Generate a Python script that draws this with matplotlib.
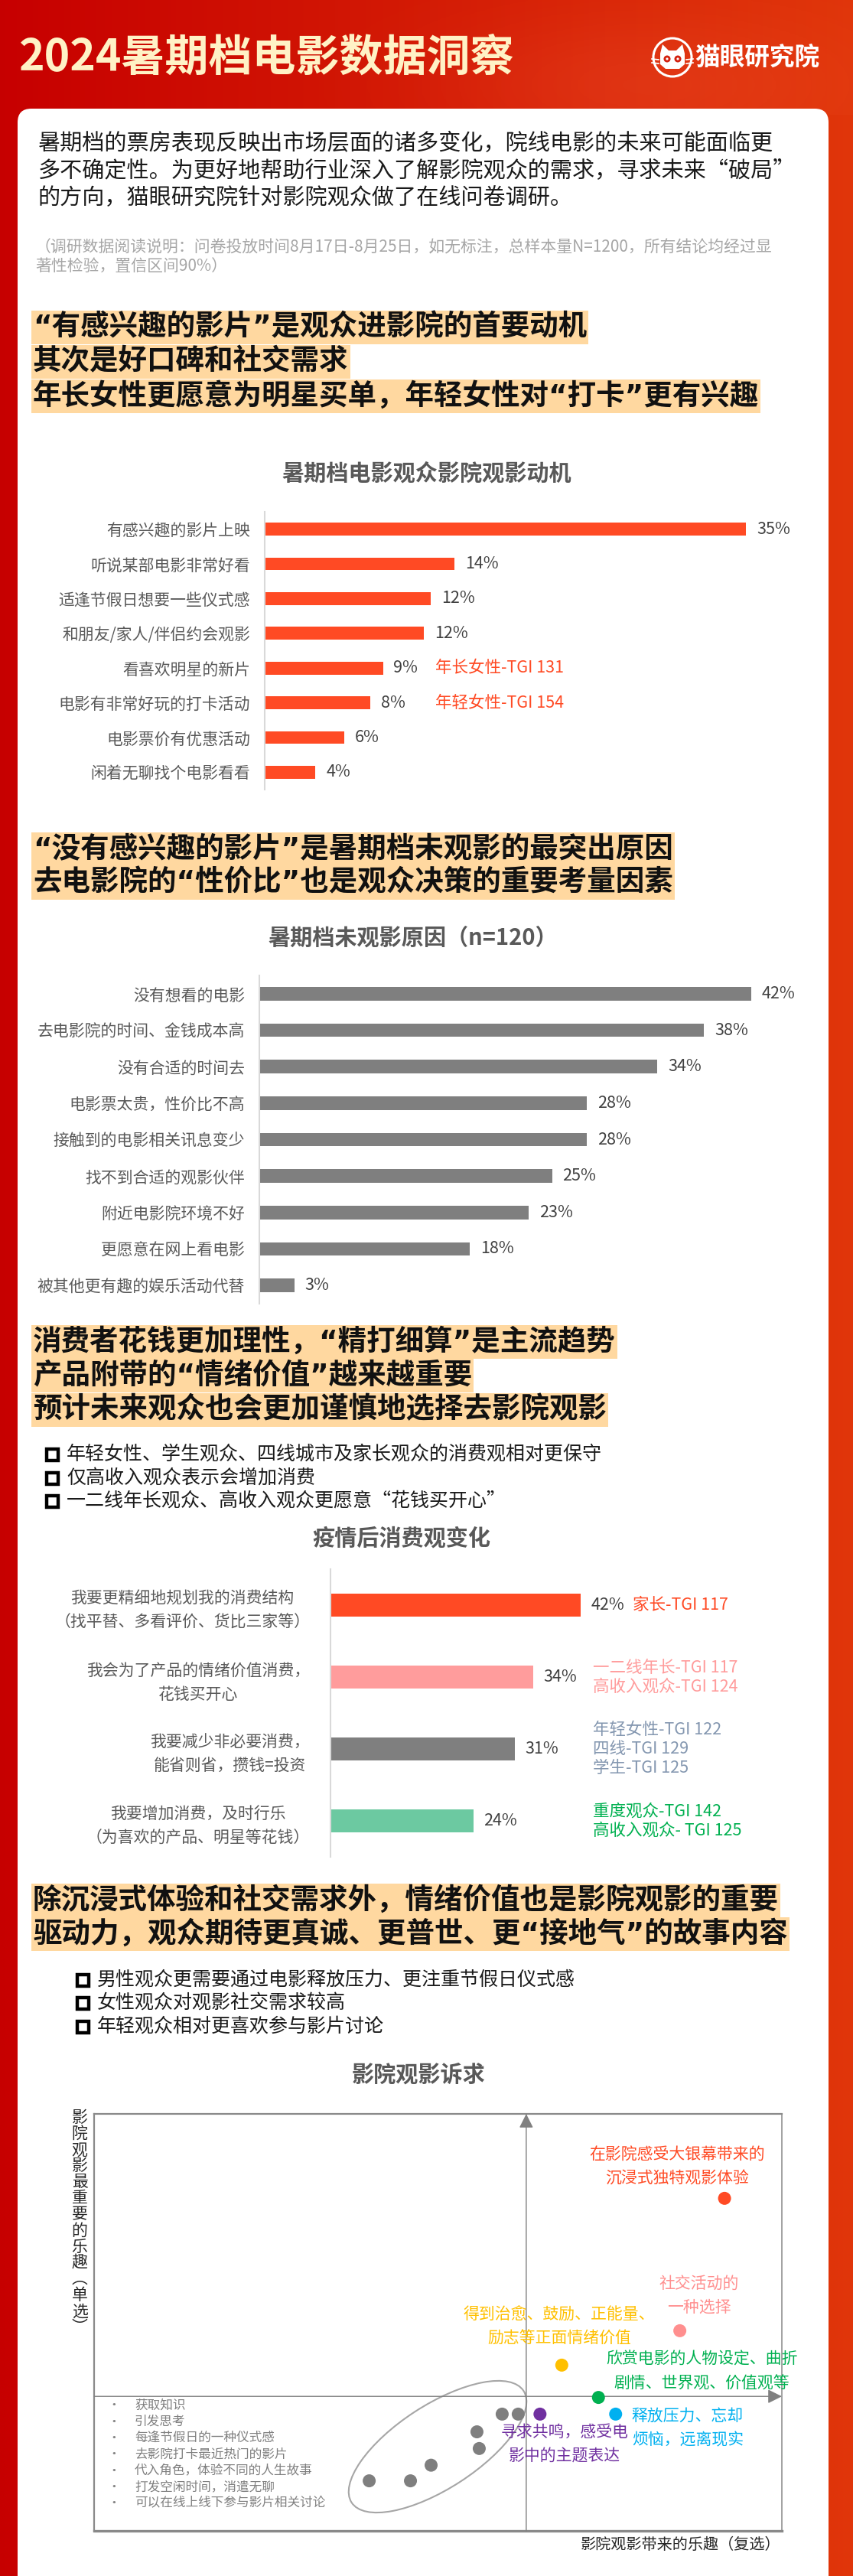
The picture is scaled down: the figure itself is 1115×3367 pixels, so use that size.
import numpy as np
import matplotlib
matplotlib.use("Agg")
import matplotlib.pyplot as plt
from matplotlib.patches import FancyBboxPatch, Rectangle, Ellipse, Circle, Polygon

plt.rcParams["font.family"] = ["Noto Sans CJK SC", "DejaVu Sans"]

# ---------------- data ----------------
title_text = "2024暑期档电影数据洞察"
brand_text = "猫眼研究院"
intro_lines = [
    "暑期档的票房表现反映出市场层面的诸多变化，院线电影的未来可能面临更",
    "多不确定性。为更好地帮助行业深入了解影院观众的需求，寻求未来“破局”",
    "的方向，猫眼研究院针对影院观众做了在线问卷调研。",
]
note_lines = [
    "（调研数据阅读说明：问卷投放时间8月17日-8月25日，如无标注，总样本量N=1200，所有结论均经过显",
    "著性检验，置信区间90%）",
]

s1_heading = [
    "“有感兴趣的影片”是观众进影院的首要动机",
    "其次是好口碑和社交需求",
    "年长女性更愿意为明星买单，年轻女性对“打卡”更有兴趣",
]
motive_title = "暑期档电影观众影院观影动机"
motive_cats = ["有感兴趣的影片上映", "听说某部电影非常好看", "适逢节假日想要一些仪式感",
               "和朋友/家人/伴侣约会观影", "看喜欢明星的新片", "电影有非常好玩的打卡活动",
               "电影票价有优惠活动", "闲着无聊找个电影看看"]
motive_vals = [35.0, 13.8, 12.1, 11.6, 8.6, 7.7, 5.8, 3.7]
motive_tgi = {4: "年长女性-TGI 131", 5: "年轻女性-TGI 154"}

s2_heading = [
    "“没有感兴趣的影片”是暑期档未观影的最突出原因",
    "去电影院的“性价比”也是观众决策的重要考量因素",
]
reason_title = "暑期档未观影原因（n=120）"
reason_cats = ["没有想看的电影", "去电影院的时间、金钱成本高", "没有合适的时间去",
               "电影票太贵，性价比不高", "接触到的电影相关讯息变少", "找不到合适的观影伙伴",
               "附近电影院环境不好", "更愿意在网上看电影", "被其他更有趣的娱乐活动代替"]
reason_vals = [42, 38, 34, 28, 28, 25, 23, 18, 3]

s3_heading = [
    "消费者花钱更加理性，“精打细算”是主流趋势",
    "产品附带的“情绪价值”越来越重要",
    "预计未来观众也会更加谨慎地选择去影院观影",
]
s3_bullets = [
    "年轻女性、学生观众、四线城市及家长观众的消费观相对更保守",
    "仅高收入观众表示会增加消费",
    "一二线年长观众、高收入观众更愿意“花钱买开心”",
]
consume_title = "疫情后消费观变化"
consume_cats = ["我要更精细地规划我的消费结构\n（找平替、多看评价、货比三家等）",
                "我会为了产品的情绪价值消费，\n花钱买开心",
                "我要减少非必要消费，\n能省则省，攒钱=投资",
                "我要增加消费，及时行乐\n（为喜欢的产品、明星等花钱）"]
consume_vals = [42, 34, 31, 24]
consume_tgi = [["家长-TGI 117"],
               ["一二线年长-TGI 117", "高收入观众-TGI 124"],
               ["年轻女性-TGI 122", "四线-TGI 129", "学生-TGI 125"],
               ["重度观众-TGI 142", "高收入观众- TGI 125"]]

s4_heading = [
    "除沉浸式体验和社交需求外，情绪价值也是影院观影的重要",
    "驱动力，观众期待更真诚、更普世、更“接地气”的故事内容",
]
s4_bullets = [
    "男性观众更需要通过电影释放压力、更注重节假日仪式感",
    "女性观众对观影社交需求较高",
    "年轻观众相对更喜欢参与影片讨论",
]
appeal_title = "影院观影诉求"
appeal_ylabel = list("影院观影最重要的乐趣") + ["︵", "单", "选", "︶"]
appeal_xlabel = "影院观影带来的乐趣（复选）"
appeal_labels = ["在影院感受大银幕带来的\n沉浸式独特观影体验", "社交活动的\n一种选择",
                 "得到治愈、鼓励、正能量、\n励志等正面情绪价值",
                 "欣赏电影的人物设定、曲折\n剧情、世界观、价值观等",
                 "释放压力、忘却\n烦恼，远离现实", "寻求共鸣，感受电\n影中的主题表达"]
appeal_x = [55.0, 51.1, 40.8, 44.0, 45.5, 38.9]
appeal_y = [31.9, 19.2, 15.9, 12.8, 11.2, 11.2]
other_labels = ["获取知识", "引发思考", "每逢节假日的一种仪式感", "去影院打卡最近热门的影片",
                "代入角色，体验不同的人生故事", "打发空闲时间，消遣无聊", "可以在线上线下参与影片相关讨论"]
other_x = [37.0, 35.6, 33.4, 33.6, 29.4, 27.6, 24.0]
other_y = [11.2, 11.2, 9.5, 7.9, 6.3, 4.8, 4.8]
avg_x, avg_y = 37.7, 12.9

# ---------------- styles ----------------
RED = "#FF4A24"
GRAY_BAR = "#7F7F7F"
LABEL = "#595959"
VAL = "#404040"
PEACH = "#FFD8A0"
HEAD_FONT = ["DejaVu Sans", "Noto Sans CJK SC"]
consume_colors = [RED, "#FF9C9C", "#7F7F7F", "#6CC9A1"]
consume_tgi_colors = [RED, "#FF9C9C", "#8497B0", "#00B050"]
appeal_colors = ["#FF4A24", "#FF8F8F", "#FFC000", "#00B050", "#00B0F0", "#7030A0"]
appeal_offsets = [(-44.6, 30.2, "center"), (18.0, 33.1, "center"), (-2.2, 36.4, "center"),
                  (97.2, 24.5, "center"), (15.1, -13.0, "left"), (23.0, -28.4, "center")]

W, H = 1115, 3367
DPI = 100
fig = plt.figure(figsize=(W / DPI, H / DPI), dpi=DPI)

bg = fig.add_axes([0, 0, 1, 1])
gx = np.linspace(0, 1, 400)
cl = np.array([0.78, 0.0, 0.0])
cr = np.array([0.88, 0.21, 0.04])
img = cl[None, None, :] * (1 - gx[None, :, None]) + cr[None, None, :] * gx[None, :, None]
bg.imshow(img, extent=[0, W, H, 0], aspect="auto", zorder=0)
# soft glow in header
yy, xx = np.mgrid[0:150:2, 0:W:4]
glow = np.exp(-(((xx - 850) / 260.0) ** 2 + ((yy - 110) / 90.0) ** 2))
rgba = np.zeros(glow.shape + (4,))
rgba[..., 0] = 1.0; rgba[..., 1] = 0.45; rgba[..., 2] = 0.3
rgba[..., 3] = 0.18 * glow
bg.imshow(rgba, extent=[0, W, 150, 0], aspect="auto", zorder=0.5)
bg.set_xlim(0, W)
bg.set_ylim(H, 0)
bg.axis("off")

# white card
bg.add_patch(FancyBboxPatch((23, 142), 1060, H + 40, boxstyle="round,pad=0,rounding_size=18",
                            fc="white", ec="none", zorder=1))

# title & logo
bg.text(25, 76, title_text, fontsize=41, fontweight="bold", color="#FFF2C6", va="center", ha="left", zorder=3)
bg.add_patch(Circle((879, 75), 25, fill=False, ec="white", lw=2.2, zorder=3))
bg.add_patch(Polygon([(-16, 9), (-16, -5), (-13, -17), (-5, -9), (5, -9), (13, -17), (16, -5), (16, 9),
                      (9, 15), (-9, 15)], closed=True, fc="white", ec="none", zorder=3,
                     transform=matplotlib.transforms.Affine2D().translate(879, 75) + bg.transData))
for ex in (872, 886):
    bg.add_patch(Circle((ex, 77), 4.5, fc="#D3200E", ec="none", zorder=4))
    bg.add_patch(Circle((ex, 77), 1.6, fc="white", ec="none", zorder=5))
for dy in (-2, 3):
    bg.plot([852, 861], [79 + dy, 80 + dy], color="white", lw=1.2, zorder=4)
    bg.plot([897, 906], [80 + dy, 79 + dy], color="white", lw=1.2, zorder=4)
bg.text(908, 75, brand_text, fontsize=23.5, fontweight="bold", color="white", va="center", ha="left", zorder=3)

# intro
for s, y in zip(intro_lines, [188, 223, 258]):
    bg.text(50, y, s, fontsize=21, color="#1A1A1A", va="center", ha="left", zorder=3)
for s, y in zip(note_lines, [323, 348]):
    bg.text(46, y, s, fontsize=15, color="#A6A6A6", va="center", ha="left", zorder=3, style="italic")

renderer = fig.canvas.get_renderer()


def heading(lines, centers, size=27, box_h=44):
    for s, yc in zip(lines, centers):
        t = bg.text(43, yc, s, fontsize=size, fontweight="bold", color="#111111", va="center", ha="left",
                    zorder=3, family=HEAD_FONT)
        bb = t.get_window_extent(renderer)
        bg.add_patch(Rectangle((41, yc - box_h / 2), bb.x1 + 2 - 41, box_h, fc=PEACH, ec="none", zorder=2))


def bullets(lines, centers, box_x, text_x):
    for s, yc in zip(lines, centers):
        bg.add_patch(Rectangle((box_x, yc - 7.5), 15, 15, fill=False, ec="black", lw=3.2, zorder=3))
        bg.text(text_x, yc, s, fontsize=18, color="#1A1A1A", va="center", ha="left", zorder=3)


def chart_title(s, x, y):
    bg.text(x, y, s, fontsize=21, fontweight="bold", color=LABEL, va="center", ha="center", zorder=3)


def px_axes(x0, y0, x1, y1):
    a = fig.add_axes([x0 / W, 1 - y1 / H, (x1 - x0) / W, (y1 - y0) / H], facecolor="none")
    return a


def style_bar_axes(a, pad_pt):
    for sp in ["top", "right", "bottom"]:
        a.spines[sp].set_visible(False)
    a.spines["left"].set_color("#D9D9D9")
    a.spines["left"].set_linewidth(1.5)
    a.set_xticks([])
    a.tick_params(axis="y", length=0, pad=pad_pt)


# ---------- section 1 ----------
heading(s1_heading, [428, 473, 518])
chart_title(motive_title, 558, 619)
ax1 = px_axes(346, 669, 346 + 40 * 17.97, 1032)
y1 = np.arange(len(motive_cats))
ax1.barh(y1, motive_vals, height=0.37, color=RED)
ax1.set_xlim(0, 40)
ax1.set_ylim(len(y1) - 0.5, -0.5)
ax1.set_yticks(y1)
ax1.set_yticklabels(motive_cats, fontsize=15, color=LABEL)
style_bar_axes(ax1, 13.7)
for i, v in enumerate(motive_vals):
    ax1.annotate(f"{v:.0f}%", (v, i), xytext=(10, 0), textcoords="offset points",
                 va="center", ha="left", fontsize=15.5, color=VAL)
for i, s in motive_tgi.items():
    ax1.text(12.4, i, s, va="center", ha="left", fontsize=15.5, color=RED)

# ---------- section 2 ----------
heading(s2_heading, [1110, 1154])
chart_title(reason_title, 540, 1226)
ax2 = px_axes(339, 1275, 339 + 44 * 15.3, 1704)
y2 = np.arange(len(reason_cats))
ax2.barh(y2, reason_vals, height=0.37, color=GRAY_BAR)
ax2.set_xlim(0, 44)
ax2.set_ylim(len(y2) - 0.5, -0.5)
ax2.set_yticks(y2)
ax2.set_yticklabels(reason_cats, fontsize=15, color=LABEL)
style_bar_axes(ax2, 13.7)
for i, v in enumerate(reason_vals):
    ax2.annotate(f"{v:.0f}%", (v, i), xytext=(10, 0), textcoords="offset points",
                 va="center", ha="left", fontsize=15.5, color=VAL)

# ---------- section 3 ----------
heading(s3_heading, [1754, 1798, 1843])
bullets(s3_bullets, [1901, 1932, 1962], 61, 87)
chart_title(consume_title, 525, 2011)
ax3 = px_axes(432, 2051, 432 + 80 * 7.79, 2427)
y3 = np.arange(len(consume_cats))
ax3.barh(y3, consume_vals, height=0.32, color=consume_colors)
ax3.set_xlim(0, 80)
ax3.set_ylim(len(y3) - 0.5, -0.5)
ax3.set_yticks(y3)
ax3.set_yticklabels(consume_cats, fontsize=15, color=LABEL, linespacing=1.55, multialignment="center")
style_bar_axes(ax3, 19.4)
for i, v in enumerate(consume_vals):
    ax3.annotate(f"{v:.0f}%", (v, i), xytext=(9.4, 0), textcoords="offset points",
                 va="center", ha="left", fontsize=15.5, color=VAL)
for i, lines in enumerate(consume_tgi):
    xpos = 50.7 if i == 0 else 44.0
    n = len(lines)
    for k, s in enumerate(lines):
        ax3.annotate(s, (xpos, i), xytext=(0, -(k - (n - 1) / 2) * 18), textcoords="offset points",
                     va="center", ha="left", fontsize=15.5, color=consume_tgi_colors[i])

# ---------- section 4 ----------
heading(s4_heading, [2484, 2528])
bullets(s4_bullets, [2588, 2618, 2649], 101, 127)
chart_title(appeal_title, 547, 2712)

ax4 = px_axes(123, 2763, 1022, 3308)
ax4.set_xlim(0, 60)
ax4.set_ylim(0, 40)
ax4.set_xticks([])
ax4.set_yticks([])
for sp, lw in [("top", 1.6), ("left", 1.6), ("right", 1.1), ("bottom", 2.4)]:
    ax4.spines[sp].set_color("#898989")
    ax4.spines[sp].set_linewidth(lw)
ax4.annotate("", xy=(avg_x, 40), xytext=(avg_x, 0),
             arrowprops=dict(arrowstyle="-|>,head_length=0.7,head_width=0.35", color="#808080",
                             lw=1.0, shrinkA=0, shrinkB=0, mutation_scale=16))
ax4.annotate("", xy=(60, avg_y), xytext=(0, avg_y),
             arrowprops=dict(arrowstyle="-|>,head_length=0.7,head_width=0.35", color="#808080",
                             lw=1.0, shrinkA=0, shrinkB=0, mutation_scale=16))
ax4.scatter(other_x, other_y, s=150, color="#7F7F7F", edgecolors="none", zorder=4, clip_on=False)
ax4.scatter(appeal_x, appeal_y, s=150, color=appeal_colors, edgecolors="none", zorder=4, clip_on=False)
for s, x, y, c, (dx, dy, ha) in zip(appeal_labels, appeal_x, appeal_y, appeal_colors, appeal_offsets):
    ax4.annotate(s, (x, y), xytext=(dx, dy), textcoords="offset points", ha=ha, va="center",
                 fontsize=15, color=c, linespacing=1.55, multialignment=ha, zorder=5)

bg.add_patch(Ellipse((572, 3198), 268, 109, angle=-33, fill=False, ec="#A6A6A6", lw=1.5, zorder=3))
for k, s in enumerate(other_labels):
    yk = 3144 + k * 21.3
    bg.text(149, yk, "•", fontsize=12, color="#7F7F7F", va="center", ha="center", zorder=3)
    bg.text(176, yk, s, fontsize=12, color="#7F7F7F", va="center", ha="left", zorder=3)

for k, ch in enumerate(appeal_ylabel):
    bg.text(104, 2768 + k * 21.1, ch, fontsize=15, color="#262626", va="center", ha="center", zorder=3)
bg.text(1020, 3327, appeal_xlabel, fontsize=14.5, color="#262626", va="center", ha="right", zorder=3)

fig.savefig("out.png", dpi=DPI)
